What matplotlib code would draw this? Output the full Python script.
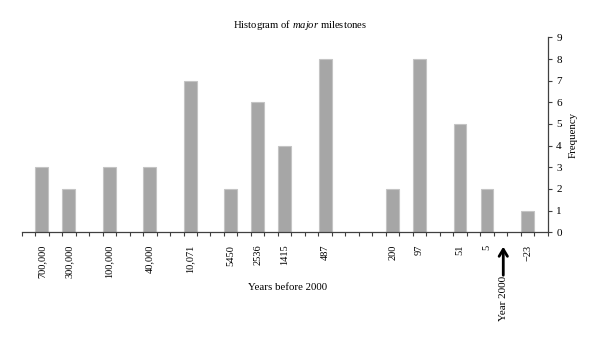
import numpy as np
import matplotlib.pyplot as plt

# milestones grouped by how many years before 2000 they happened
labels = ['700,000', '300,000', '100,000', '40,000', '10,071', '5450', '2536',
          '1415', '487', '200', '97', '51', '5', '\u221223']
freq = [3, 2, 3, 3, 7, 2, 6, 4, 8, 2, 8, 5, 2, 1]
bins = [1, 3, 6, 9, 12, 15, 17, 19, 22, 27, 29, 32, 34, 37]
nbins = 39
year2000 = 35.7

plt.rcParams['font.family'] = ['Liberation Serif', 'DejaVu Serif']
plt.rcParams['mathtext.fontset'] = 'custom'
plt.rcParams['mathtext.rm'] = 'Liberation Serif'
plt.rcParams['mathtext.it'] = 'Liberation Serif:italic'

fig = plt.figure(figsize=(6, 3.4), dpi=100)
ax = fig.add_axes([0.036, 0.317, 0.877, 0.573])

x = np.array(bins) + 0.5
ax.bar(x, freq, width=0.94, color='#a6a6a6', edgecolor='#c4c4c4', linewidth=0.8)

ax.set_xlim(0, nbins)
ax.set_ylim(0, 9)
ax.set_xticks(np.arange(nbins + 1))
ax.set_xticklabels([])
ax.set_xticks(x, minor=True)
ax.set_xticklabels(labels, minor=True, rotation=90, fontsize=7.5)
ax.tick_params(axis='x', which='major', direction='out', length=3, color='#404040')
ax.tick_params(axis='x', which='minor', length=0, pad=9)

ax.yaxis.tick_right()
ax.set_yticks(range(10))
ax.tick_params(axis='y', direction='out', length=3, labelsize=8, color='#404040', pad=3)
ax.yaxis.set_label_position('right')
ax.set_ylabel('Frequency', fontsize=7.8, labelpad=5)

for s in ['left', 'top']:
    ax.spines[s].set_visible(False)
for s in ['bottom', 'right']:
    ax.spines[s].set_color('#404040')
    ax.spines[s].set_linewidth(0.9)

fig.text(0.5, 1 - 25 / 340, 'Histogram of $\\it{major}$ milestones', ha='center', va='center', fontsize=7.7)
fig.text(0.48, 1 - 288 / 340, 'Years before 2000', ha='center', va='center', fontsize=7.8)

# arrow marking the year 2000
ax.annotate('', xy=(year2000, -0.06), xytext=(year2000, -0.235),
            xycoords=('data', 'axes fraction'), textcoords=('data', 'axes fraction'),
            arrowprops=dict(arrowstyle='->,head_width=0.3,head_length=0.5', lw=2, color='black'))
ax.text(year2000, -0.225, 'Year 2000', rotation=90, ha='center', va='top', fontsize=8,
        transform=ax.get_xaxis_transform())

fig.savefig('out.png', dpi=100)
